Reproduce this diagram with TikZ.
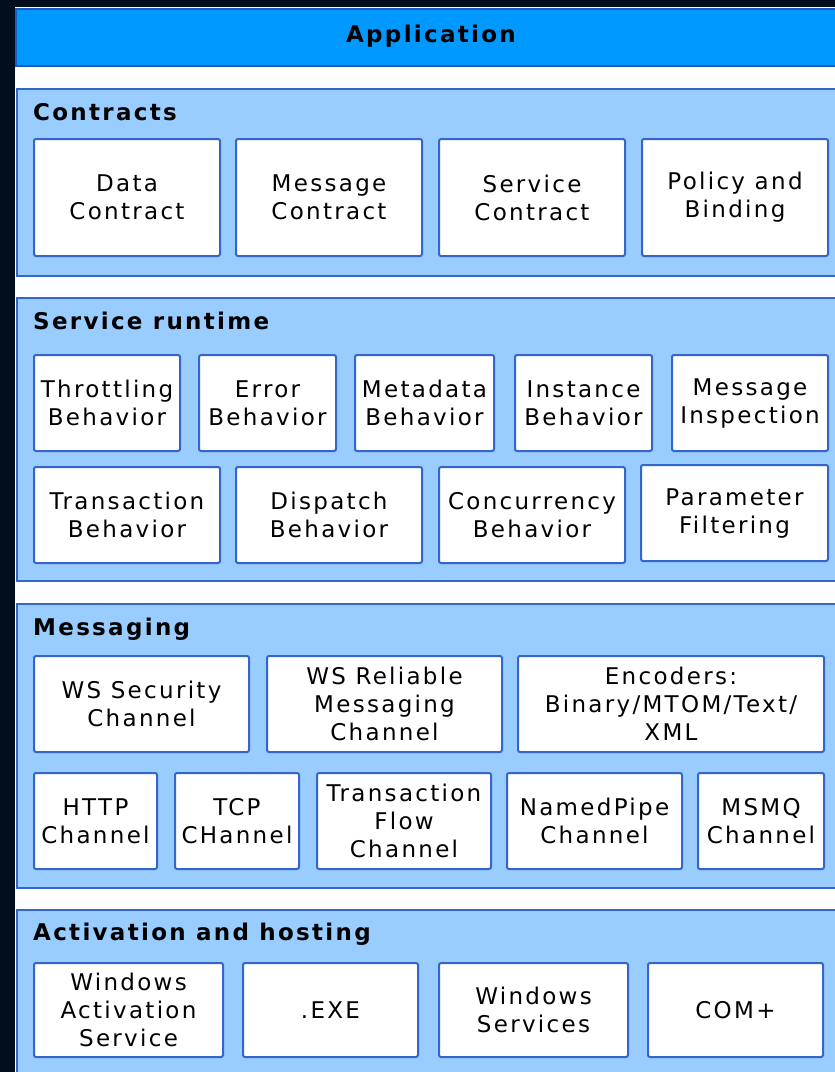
\documentclass[tikz,border=0pt]{standalone}
\usepackage{fontspec}
\setmainfont[LetterSpace=10]{DejaVu Sans}
\definecolor{bgdark}{HTML}{020E1E}
\definecolor{appblue}{HTML}{0099FF}
\definecolor{panelblue}{HTML}{99CCFF}
\definecolor{edgeblue}{HTML}{3366CC}
\definecolor{edgedark}{HTML}{1E5CB8}
\begin{document}
\begin{tikzpicture}[x=1pt,y=-1pt,
  boxtext/.style={font=\fontsize{23}{28}\selectfont},
  box/.style={draw=edgeblue, line width=2pt, fill=white, rounded corners=2pt,
    align=center, inner sep=0pt, boxtext},
  panel/.style={draw=edgeblue, line width=1.5pt, fill=panelblue, anchor=north west,
    inner sep=0pt, minimum width=830pt},
  title/.style={anchor=base west, inner sep=0pt, font=\fontsize{23}{28}\selectfont\bfseries}
]
\useasboundingbox (0,0) rectangle (835,1072);
\clip (0,0) rectangle (835,1072);
\fill[bgdark] (0,0) rectangle (835,1072);
\fill[white] (15,7) rectangle (840,1080);

% Application bar
\node[draw=edgedark, line width=1.5pt, fill=appblue, anchor=north west, inner sep=0pt,
  minimum width=830pt, minimum height=57pt] (app) at (15,8) {};
\node[anchor=base, inner sep=0pt, font=\fontsize{23}{28}\selectfont\bfseries] (apptitle) at (431,42) {Application};

% Panels
\node[panel, minimum height=187pt] (contracts) at (16,88) {};
\node[panel, minimum height=283pt] (runtime) at (16,297) {};
\node[panel, minimum height=284pt] (messaging) at (16,603) {};
\node[panel, minimum height=190pt] (hosting) at (16,909) {};

\node[title] (tcontracts) at (33,120) {Contracts};
\node[title] (truntime) at (33,329) {Service runtime};
\node[title] (tmessaging) at (33,635) {Messaging};
\node[title] (thosting) at (33,940) {Activation and hosting};

% Contracts
\node[box, minimum width=186pt, minimum height=117pt] (data) at (127,197.5) {Data\\Contract};
\node[box, minimum width=186pt, minimum height=117pt] (msgc) at (329,197.5) {Message\\Contract};
\node[box, minimum width=186pt, minimum height=117pt] (svcc) at (532,197.5) {Service\\Contract};
\node[box, minimum width=186pt, minimum height=117pt] (policy) at (735,197.5) {Policy and\\Binding};

% Service runtime row 1
\node[box, minimum width=146pt, minimum height=96pt] (throttle) at (107,403) {Throttling\\Behavior};
\node[box, minimum width=137pt, minimum height=96pt] (error) at (267.5,403) {Error\\Behavior};
\node[box, minimum width=139pt, minimum height=96pt] (meta) at (424.5,403) {Metadata\\Behavior};
\node[box, minimum width=137pt, minimum height=96pt] (instance) at (583.5,403) {Instance\\Behavior};
\node[box, minimum width=156pt, minimum height=96pt] (inspect) at (750,403) {Message\\Inspection};
% Service runtime row 2
\node[box, minimum width=186pt, minimum height=96pt] (trans) at (127,515) {Transaction\\Behavior};
\node[box, minimum width=186pt, minimum height=96pt] (dispatch) at (329,515) {Dispatch\\Behavior};
\node[box, minimum width=186pt, minimum height=96pt] (concur) at (532,515) {Concurrency\\Behavior};
\node[box, minimum width=187pt, minimum height=96pt] (param) at (734.5,513) {Parameter\\Filtering};

% Messaging row 1
\node[box, minimum width=215pt, minimum height=96pt] (wssec) at (141.5,704) {WS Security\\Channel};
\node[box, minimum width=235pt, minimum height=96pt] (wsrel) at (384.5,704) {WS Reliable\\Messaging\\Channel};
\node[box, minimum width=306pt, minimum height=96pt] (enc) at (671,704) {Encoders:\\Binary/MTOM/Text/\\XML};
% Messaging row 2
\node[box, minimum width=123pt, minimum height=96pt] (http) at (95.5,821) {HTTP\\Channel};
\node[box, minimum width=124pt, minimum height=96pt] (tcp) at (237,821) {TCP\\CHannel};
\node[box, minimum width=174pt, minimum height=96pt] (tflow) at (404,821) {Transaction\\Flow\\Channel};
\node[box, minimum width=175pt, minimum height=96pt] (npipe) at (594.5,821) {NamedPipe\\Channel};
\node[box, minimum width=126pt, minimum height=96pt] (msmq) at (761,821) {MSMQ\\Channel};

% Activation and hosting
\node[box, minimum width=189pt, minimum height=94pt] (was) at (128.5,1010) {Windows\\Activation\\Service};
\node[box, minimum width=175pt, minimum height=94pt] (exe) at (330.5,1010) {.EXE};
\node[box, minimum width=189pt, minimum height=94pt] (winsvc) at (533.5,1010) {Windows\\Services};
\node[box, minimum width=175pt, minimum height=94pt] (complus) at (735.5,1010) {COM+};
\end{tikzpicture}
\end{document}
